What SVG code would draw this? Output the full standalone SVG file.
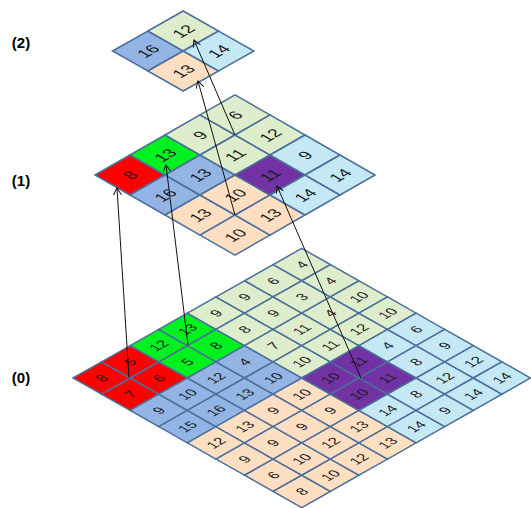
<svg xmlns="http://www.w3.org/2000/svg" width="531" height="508" viewBox="0 0 531 508">
<style>
rect{stroke:#4B6F9B;stroke-width:1.5;vector-effect:non-scaling-stroke}
.r{fill:#FF0000}.G{fill:#00F020}.g{fill:#DEEDCB}.b{fill:#93B5E5}.p{fill:#FEDFC2}.c{fill:#C4E8F4}.v{fill:#7232A3}
text{font-family:"Liberation Sans",Arial,sans-serif;fill:#1a1a1a;text-anchor:middle;dominant-baseline:central}
.l0 text{font-size:17px}
.l1 text,.l2 text{font-size:20px}
.lab{font-family:"Liberation Sans",Arial,sans-serif;font-weight:bold;font-size:15px;fill:#000;text-anchor:middle;dominant-baseline:auto}
.cn line{stroke:#111;stroke-width:1;marker-end:url(#ah)}
</style>
<defs>
<marker id="ah" markerUnits="userSpaceOnUse" markerWidth="10" markerHeight="10" refX="7" refY="4" orient="auto">
<path d="M0,0 L7,4 L0,8" fill="none" stroke="#111" stroke-width="1"/>
</marker>
</defs>
<text class="lab" x="21" y="48">(2)</text>
<text class="lab" x="21" y="186">(1)</text>
<text class="lab" x="21" y="383">(0)</text>

<g id="level0" class="l0" transform="translate(73,378) scale(1.011,0.573) rotate(-45)">
<g id="l0-0-0"><rect class="r" x="0" y="0" width="40" height="40"/><text x="20" y="20">8</text></g>
<g id="l0-0-1"><rect class="r" x="40" y="0" width="40" height="40"/><text x="60" y="20">5</text></g>
<g id="l0-0-2"><rect class="G" x="80" y="0" width="40" height="40"/><text x="100" y="20">12</text></g>
<g id="l0-0-3"><rect class="G" x="120" y="0" width="40" height="40"/><text x="140" y="20">13</text></g>
<g id="l0-0-4"><rect class="g" x="160" y="0" width="40" height="40"/><text x="180" y="20">9</text></g>
<g id="l0-0-5"><rect class="g" x="200" y="0" width="40" height="40"/><text x="220" y="20">9</text></g>
<g id="l0-0-6"><rect class="g" x="240" y="0" width="40" height="40"/><text x="260" y="20">6</text></g>
<g id="l0-0-7"><rect class="g" x="280" y="0" width="40" height="40"/><text x="300" y="20">4</text></g>

<g id="l0-1-0"><rect class="r" x="0" y="40" width="40" height="40"/><text x="20" y="60">7</text></g>
<g id="l0-1-1"><rect class="r" x="40" y="40" width="40" height="40"/><text x="60" y="60">6</text></g>
<g id="l0-1-2"><rect class="G" x="80" y="40" width="40" height="40"/><text x="100" y="60">5</text></g>
<g id="l0-1-3"><rect class="G" x="120" y="40" width="40" height="40"/><text x="140" y="60">8</text></g>
<g id="l0-1-4"><rect class="g" x="160" y="40" width="40" height="40"/><text x="180" y="60">8</text></g>
<g id="l0-1-5"><rect class="g" x="200" y="40" width="40" height="40"/><text x="220" y="60">9</text></g>
<g id="l0-1-6"><rect class="g" x="240" y="40" width="40" height="40"/><text x="260" y="60">3</text></g>
<g id="l0-1-7"><rect class="g" x="280" y="40" width="40" height="40"/><text x="300" y="60">4</text></g>

<g id="l0-2-0"><rect class="b" x="0" y="80" width="40" height="40"/><text x="20" y="100">9</text></g>
<g id="l0-2-1"><rect class="b" x="40" y="80" width="40" height="40"/><text x="60" y="100">10</text></g>
<g id="l0-2-2"><rect class="b" x="80" y="80" width="40" height="40"/><text x="100" y="100">12</text></g>
<g id="l0-2-3"><rect class="b" x="120" y="80" width="40" height="40"/><text x="140" y="100">4</text></g>
<g id="l0-2-4"><rect class="g" x="160" y="80" width="40" height="40"/><text x="180" y="100">7</text></g>
<g id="l0-2-5"><rect class="g" x="200" y="80" width="40" height="40"/><text x="220" y="100">11</text></g>
<g id="l0-2-6"><rect class="g" x="240" y="80" width="40" height="40"/><text x="260" y="100">4</text></g>
<g id="l0-2-7"><rect class="g" x="280" y="80" width="40" height="40"/><text x="300" y="100">10</text></g>

<g id="l0-3-0"><rect class="b" x="0" y="120" width="40" height="40"/><text x="20" y="140">15</text></g>
<g id="l0-3-1"><rect class="b" x="40" y="120" width="40" height="40"/><text x="60" y="140">16</text></g>
<g id="l0-3-2"><rect class="b" x="80" y="120" width="40" height="40"/><text x="100" y="140">13</text></g>
<g id="l0-3-3"><rect class="b" x="120" y="120" width="40" height="40"/><text x="140" y="140">10</text></g>
<g id="l0-3-4"><rect class="g" x="160" y="120" width="40" height="40"/><text x="180" y="140">10</text></g>
<g id="l0-3-5"><rect class="g" x="200" y="120" width="40" height="40"/><text x="220" y="140">11</text></g>
<g id="l0-3-6"><rect class="g" x="240" y="120" width="40" height="40"/><text x="260" y="140">12</text></g>
<g id="l0-3-7"><rect class="g" x="280" y="120" width="40" height="40"/><text x="300" y="140">10</text></g>

<g id="l0-4-0"><rect class="p" x="0" y="160" width="40" height="40"/><text x="20" y="180">12</text></g>
<g id="l0-4-1"><rect class="p" x="40" y="160" width="40" height="40"/><text x="60" y="180">13</text></g>
<g id="l0-4-2"><rect class="p" x="80" y="160" width="40" height="40"/><text x="100" y="180">9</text></g>
<g id="l0-4-3"><rect class="p" x="120" y="160" width="40" height="40"/><text x="140" y="180">10</text></g>
<g id="l0-4-4"><rect class="v" x="160" y="160" width="40" height="40"/><text x="180" y="180">10</text></g>
<g id="l0-4-5"><rect class="v" x="200" y="160" width="40" height="40"/><text x="220" y="180">11</text></g>
<g id="l0-4-6"><rect class="c" x="240" y="160" width="40" height="40"/><text x="260" y="180">4</text></g>
<g id="l0-4-7"><rect class="c" x="280" y="160" width="40" height="40"/><text x="300" y="180">6</text></g>

<g id="l0-5-0"><rect class="p" x="0" y="200" width="40" height="40"/><text x="20" y="220">9</text></g>
<g id="l0-5-1"><rect class="p" x="40" y="200" width="40" height="40"/><text x="60" y="220">9</text></g>
<g id="l0-5-2"><rect class="p" x="80" y="200" width="40" height="40"/><text x="100" y="220">9</text></g>
<g id="l0-5-3"><rect class="p" x="120" y="200" width="40" height="40"/><text x="140" y="220">9</text></g>
<g id="l0-5-4"><rect class="v" x="160" y="200" width="40" height="40"/><text x="180" y="220">10</text></g>
<g id="l0-5-5"><rect class="v" x="200" y="200" width="40" height="40"/><text x="220" y="220">11</text></g>
<g id="l0-5-6"><rect class="c" x="240" y="200" width="40" height="40"/><text x="260" y="220">8</text></g>
<g id="l0-5-7"><rect class="c" x="280" y="200" width="40" height="40"/><text x="300" y="220">9</text></g>

<g id="l0-6-0"><rect class="p" x="0" y="240" width="40" height="40"/><text x="20" y="260">6</text></g>
<g id="l0-6-1"><rect class="p" x="40" y="240" width="40" height="40"/><text x="60" y="260">10</text></g>
<g id="l0-6-2"><rect class="p" x="80" y="240" width="40" height="40"/><text x="100" y="260">12</text></g>
<g id="l0-6-3"><rect class="p" x="120" y="240" width="40" height="40"/><text x="140" y="260">13</text></g>
<g id="l0-6-4"><rect class="c" x="160" y="240" width="40" height="40"/><text x="180" y="260">14</text></g>
<g id="l0-6-5"><rect class="c" x="200" y="240" width="40" height="40"/><text x="220" y="260">8</text></g>
<g id="l0-6-6"><rect class="c" x="240" y="240" width="40" height="40"/><text x="260" y="260">12</text></g>
<g id="l0-6-7"><rect class="c" x="280" y="240" width="40" height="40"/><text x="300" y="260">12</text></g>

<g id="l0-7-0"><rect class="p" x="0" y="280" width="40" height="40"/><text x="20" y="300">8</text></g>
<g id="l0-7-1"><rect class="p" x="40" y="280" width="40" height="40"/><text x="60" y="300">10</text></g>
<g id="l0-7-2"><rect class="p" x="80" y="280" width="40" height="40"/><text x="100" y="300">12</text></g>
<g id="l0-7-3"><rect class="p" x="120" y="280" width="40" height="40"/><text x="140" y="300">13</text></g>
<g id="l0-7-4"><rect class="c" x="160" y="280" width="40" height="40"/><text x="180" y="300">14</text></g>
<g id="l0-7-5"><rect class="c" x="200" y="280" width="40" height="40"/><text x="220" y="300">9</text></g>
<g id="l0-7-6"><rect class="c" x="240" y="280" width="40" height="40"/><text x="260" y="300">14</text></g>
<g id="l0-7-7"><rect class="c" x="280" y="280" width="40" height="40"/><text x="300" y="300">14</text></g>
</g>

<g id="level1" class="l1" transform="translate(95,175) scale(0.99,0.566) rotate(-45)">
<g id="l1-0-0"><rect class="r" x="0" y="0" width="50" height="50"/><text x="25" y="25">8</text></g>
<g id="l1-0-1"><rect class="G" x="50" y="0" width="50" height="50"/><text x="75" y="25">13</text></g>
<g id="l1-0-2"><rect class="g" x="100" y="0" width="50" height="50"/><text x="125" y="25">9</text></g>
<g id="l1-0-3"><rect class="g" x="150" y="0" width="50" height="50"/><text x="175" y="25">6</text></g>
<g id="l1-1-0"><rect class="b" x="0" y="50" width="50" height="50"/><text x="25" y="75">16</text></g>
<g id="l1-1-1"><rect class="b" x="50" y="50" width="50" height="50"/><text x="75" y="75">13</text></g>
<g id="l1-1-2"><rect class="g" x="100" y="50" width="50" height="50"/><text x="125" y="75">11</text></g>
<g id="l1-1-3"><rect class="g" x="150" y="50" width="50" height="50"/><text x="175" y="75">12</text></g>
<g id="l1-2-0"><rect class="p" x="0" y="100" width="50" height="50"/><text x="25" y="125">13</text></g>
<g id="l1-2-1"><rect class="p" x="50" y="100" width="50" height="50"/><text x="75" y="125">10</text></g>
<g id="l1-2-2"><rect class="v" x="100" y="100" width="50" height="50"/><text x="125" y="125">11</text></g>
<g id="l1-2-3"><rect class="c" x="150" y="100" width="50" height="50"/><text x="175" y="125">9</text></g>
<g id="l1-3-0"><rect class="p" x="0" y="150" width="50" height="50"/><text x="25" y="175">10</text></g>
<g id="l1-3-1"><rect class="p" x="50" y="150" width="50" height="50"/><text x="75" y="175">13</text></g>
<g id="l1-3-2"><rect class="c" x="100" y="150" width="50" height="50"/><text x="125" y="175">14</text></g>
<g id="l1-3-3"><rect class="c" x="150" y="150" width="50" height="50"/><text x="175" y="175">14</text></g>
</g>

<g id="level2" class="l2" transform="translate(112.5,51) scale(1.0,0.566) rotate(-45)">
<g id="l2-0-0"><rect class="b" x="0" y="0" width="50" height="50"/><text x="25" y="25">16</text></g>
<g id="l2-0-1"><rect class="g" x="50" y="0" width="50" height="50"/><text x="75" y="25">12</text></g>
<g id="l2-1-0"><rect class="p" x="0" y="50" width="50" height="50"/><text x="25" y="75">13</text></g>
<g id="l2-1-1"><rect class="c" x="50" y="50" width="50" height="50"/><text x="75" y="75">14</text></g>
</g>

<g id="connectors" class="cn">
<line x1="129" y1="378" x2="117" y2="188"/>
<line x1="188" y1="345" x2="166" y2="165"/>
<line x1="361" y1="378" x2="277" y2="186"/>
<line x1="235" y1="135" x2="194" y2="40"/>
<line x1="235" y1="215" x2="198" y2="81"/>
</g>
</svg>
